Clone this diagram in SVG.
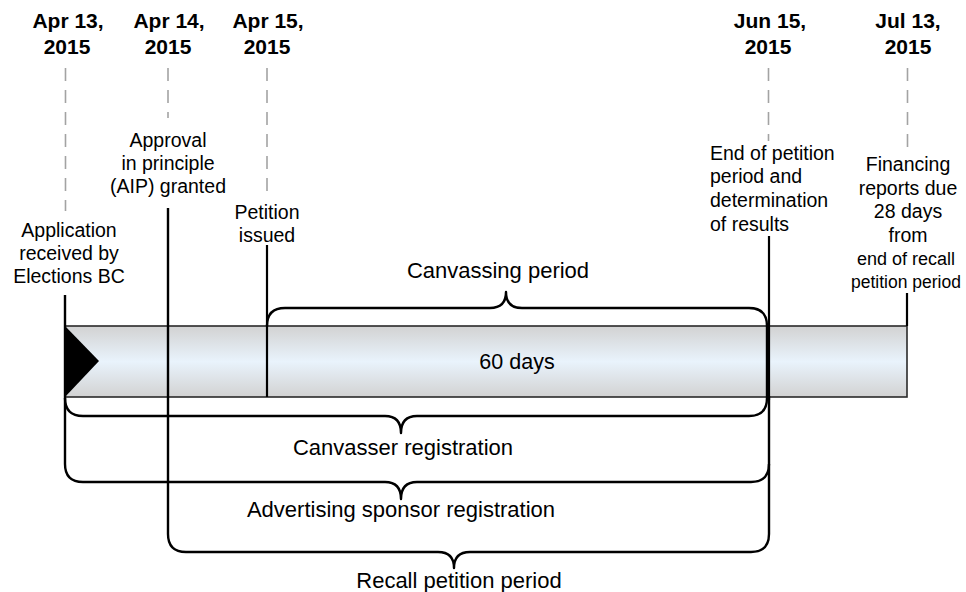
<svg xmlns="http://www.w3.org/2000/svg" width="966" height="592" viewBox="0 0 966 592">
  <defs>
    <linearGradient id="barGrad" x1="0" y1="0" x2="0" y2="1">
      <stop offset="0" stop-color="#d2d2d2"/>
      <stop offset="0.5" stop-color="#e9f3fc"/>
      <stop offset="1" stop-color="#d2d2d2"/>
    </linearGradient>
    <style>
      .date { font-family: "Liberation Sans", Arial, sans-serif; font-size: 21px; font-weight: bold; fill: #000; text-anchor: middle; }
      .lbl { font-family: "Liberation Sans", Arial, sans-serif; font-size: 19.5px; fill: #000; text-anchor: middle; }
      .lbl-l { font-family: "Liberation Sans", Arial, sans-serif; font-size: 19.5px; fill: #000; text-anchor: start; }
      .big { font-family: "Liberation Sans", Arial, sans-serif; font-size: 22px; fill: #000; text-anchor: middle; }
      .dash { stroke: #a3a3a3; stroke-width: 1.6; stroke-dasharray: 13 9; fill: none; }
      .solid { stroke: #000; stroke-width: 2.2; fill: none; }
      .brace { stroke: #000; stroke-width: 2.4; fill: none; stroke-linejoin: round; }
    </style>
  </defs>

  <!-- timeline bar -->
  <g id="bar">
    <rect x="65" y="326" width="842" height="71" fill="url(#barGrad)" stroke="#2a2a2a" stroke-width="1.6"/>
    <polygon points="65,326 99,361 65,397" fill="#000"/>
    <text class="big" x="517" y="369" style="font-size:21.5px">60 days</text>
  </g>

  <!-- date milestones -->
  <g id="date-apr13">
    <text class="date" x="68" y="28">Apr 13,</text>
    <text class="date" x="67" y="54">2015</text>
    <line class="dash" x1="65.5" y1="68" x2="65.5" y2="211"/>
  </g>
  <g id="date-apr14">
    <text class="date" x="169" y="28">Apr 14,</text>
    <text class="date" x="168" y="54">2015</text>
    <line class="dash" x1="168" y1="68" x2="168" y2="118"/>
  </g>
  <g id="date-apr15">
    <text class="date" x="268" y="28">Apr 15,</text>
    <text class="date" x="267" y="54">2015</text>
    <line class="dash" x1="267" y1="68" x2="267" y2="193"/>
  </g>
  <g id="date-jun15">
    <text class="date" x="770" y="28">Jun 15,</text>
    <text class="date" x="768" y="54">2015</text>
    <line class="dash" x1="768.5" y1="68" x2="768.5" y2="141"/>
  </g>
  <g id="date-jul13">
    <text class="date" x="908" y="28">Jul 13,</text>
    <text class="date" x="908" y="54">2015</text>
    <line class="dash" x1="907.5" y1="68" x2="907.5" y2="148"/>
  </g>

  <!-- event labels -->
  <g id="label-application">
    <text class="lbl" x="69" y="237">Application</text>
    <text class="lbl" x="69" y="260">received by</text>
    <text class="lbl" x="69" y="283">Elections BC</text>
  </g>
  <g id="label-aip">
    <text class="lbl" x="168" y="147">Approval</text>
    <text class="lbl" x="168" y="170">in principle</text>
    <text class="lbl" x="168" y="193">(AIP) granted</text>
  </g>
  <g id="label-petition">
    <text class="lbl" x="267" y="219">Petition</text>
    <text class="lbl" x="267" y="242">issued</text>
  </g>
  <g id="label-end">
    <text class="lbl-l" x="710" y="160">End of petition</text>
    <text class="lbl-l" x="710" y="183">period and</text>
    <text class="lbl-l" x="710" y="207">determination</text>
    <text class="lbl-l" x="710" y="231">of results</text>
  </g>
  <g id="label-financing">
    <text class="lbl" x="908" y="171">Financing</text>
    <text class="lbl" x="908" y="195">reports due</text>
    <text class="lbl" x="908" y="218">28 days</text>
    <text class="lbl" x="908" y="242">from</text>
    <text class="lbl" x="906" y="265" style="font-size:18px">end of recall</text>
    <text class="lbl" x="906" y="288" style="font-size:17.5px">petition period</text>
  </g>

  <!-- period labels -->
  <g id="label-canvassing">
    <text class="big" x="498" y="278">Canvassing period</text>
  </g>
  <g id="label-canvasser">
    <text class="big" x="403" y="455">Canvasser registration</text>
  </g>
  <g id="label-advertising">
    <text class="big" x="401" y="517">Advertising sponsor registration</text>
  </g>
  <g id="label-recall">
    <text class="big" x="459" y="588">Recall petition period</text>
  </g>

  <!-- connectors: milestone lines and braces -->
  <g id="connectors">
    <path class="solid" d="M267,245 V397"/>
    <path class="solid" d="M907,293 V326"/>
    <path class="solid" d="M769,236 V400" stroke-width="1.8"/>
    <!-- canvassing period brace (top) with right side down to canvasser brace -->
    <path class="brace" d="M267,326 Q267,308 285,308 H490 Q506,308 506,292 Q506,308 522,308 H749 Q767,308 767,326 V398 Q767,416 749,416 H417 Q401,416 401,433 Q401,416 385,416 H83 Q65,416 65,398"/>
    <!-- advertising sponsor registration brace, includes application line -->
    <path class="brace" d="M65,295 V464 Q65,482 83,482 H385 Q401,482 401,499 Q401,482 417,482 H751 Q769,482 769,464 V396"/>
    <!-- recall petition period brace, includes AIP line -->
    <path class="brace" d="M168,208 V534 Q168,552 186,552 H438 Q454,552 454,568 Q454,552 470,552 H751 Q769,552 769,534 V464"/>
  </g>
</svg>
